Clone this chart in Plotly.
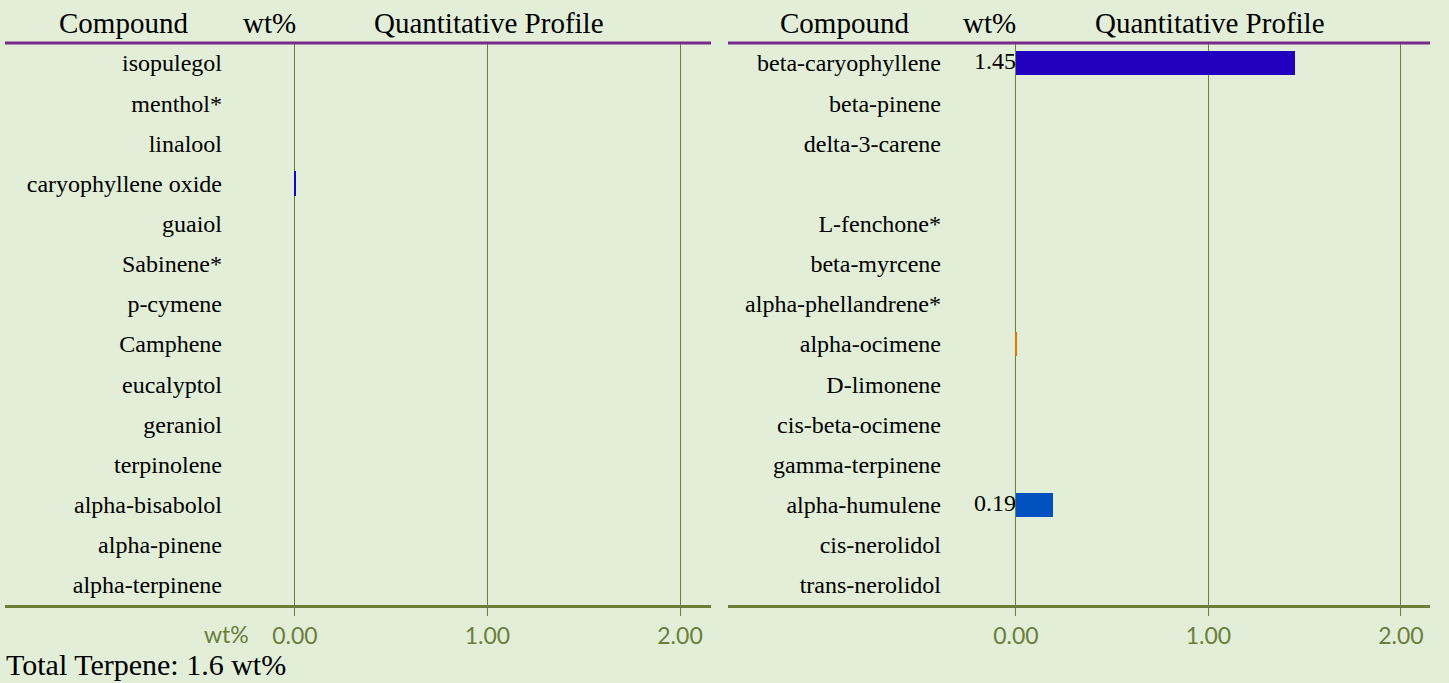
import plotly.graph_objects as go

W, H = 1449, 683

left_names = ["isopulegol", "menthol*", "linalool", "caryophyllene oxide", "guaiol",
              "Sabinene*", "p-cymene", "Camphene", "eucalyptol", "geraniol",
              "terpinolene", "alpha-bisabolol", "alpha-pinene", "alpha-terpinene"]
left_values = [0, 0, 0, 0.004, 0, 0, 0, 0, 0, 0, 0, 0, 0, 0]
left_colors = ["#1F3FBF", "#3A5FCD", "#2E2EB8", "#0A0ACC", "#3355CC", "#4466CC", "#2255BB",
               "#3344AA", "#2266CC", "#4455BB", "#3366DD", "#2244AA", "#5566CC", "#3355BB"]

right_names = ["beta-caryophyllene", "beta-pinene", "delta-3-carene", " ", "L-fenchone*",
               "beta-myrcene", "alpha-phellandrene*", "alpha-ocimene", "D-limonene",
               "cis-beta-ocimene", "gamma-terpinene", "alpha-humulene", "cis-nerolidol",
               "trans-nerolidol"]
right_values = [1.45, 0, 0, 0, 0, 0, 0, 0.004, 0, 0, 0, 0.19, 0, 0]
right_colors = ["#2200C0", "#3344BB", "#4455CC", "#000000", "#5566CC", "#2255BB", "#6655CC",
                "#E07000", "#3366CC", "#4466DD", "#2244AA", "#0050C0", "#3355BB", "#2266CC"]

tick_vals = [0, 1, 2]
tick_text = ["0.00", "1.00", "2.00"]
total_text = "Total Terpene: 1.6 wt%"

OLIVE = "#6A7F38"
PURPLE = "#782A8A"
SERIF = "Liberation Serif"
SANS = "Lato"

TOP, BOT = 43, 605
MT, MB = TOP, H - BOT


def px_x(p):
    return p / W


def px_y(p):
    return (BOT - p) / (BOT - TOP)


def fmt(v):
    return f"{v:.2f}" if v >= 0.01 else ""


fig = go.Figure()
fig.add_trace(go.Bar(x=left_values, y=left_names, orientation="h", width=0.6,
                     marker=dict(color=left_colors, line=dict(width=0)),
                     xaxis="x", yaxis="y", showlegend=False, hoverinfo="skip"))
fig.add_trace(go.Bar(x=right_values, y=right_names, orientation="h", width=0.6,
                     marker=dict(color=right_colors, line=dict(width=0)),
                     xaxis="x2", yaxis="y2", showlegend=False, hoverinfo="skip"))
fig.add_trace(go.Scatter(x=[0] * len(left_names), y=left_names, mode="text",
                         text=[fmt(v) for v in left_values], textposition="middle left",
                         textfont=dict(family=SERIF, size=24, color="#000000"),
                         xaxis="x", yaxis="y", showlegend=False, hoverinfo="skip", cliponaxis=False))
fig.add_trace(go.Scatter(x=[0] * len(right_names), y=right_names, mode="text",
                         text=[fmt(v) for v in right_values], textposition="middle left",
                         textfont=dict(family=SERIF, size=24, color="#000000"),
                         xaxis="x2", yaxis="y2", showlegend=False, hoverinfo="skip", cliponaxis=False))

xcommon = dict(tickvals=tick_vals, ticktext=tick_text, showgrid=True, gridcolor=OLIVE,
               gridwidth=1, showline=True, linecolor=OLIVE, linewidth=3, ticks="outside",
               ticklen=8, tickcolor=OLIVE, tickwidth=1,
               tickfont=dict(family=SANS, size=23, color=OLIVE), zeroline=False,
               fixedrange=True)
ycommon = dict(type="category", range=[13.5, -0.5], autorange=False, showgrid=False,
               showline=False, ticks="", zeroline=False, domain=[0, 1], anchor="free",
               tickfont=dict(family=SERIF, size=24, color="#000000"), fixedrange=True)

fig.update_layout(
    width=W, height=H,
    margin=dict(l=0, r=0, t=MT, b=MB),
    paper_bgcolor="#E3EED8",
    plot_bgcolor="rgba(0,0,0,0)",
    bargap=0,
    xaxis=dict(domain=[px_x(5), px_x(711)], range=[-1.506, 2.161], anchor="y", **xcommon),
    xaxis2=dict(domain=[px_x(728), px_x(1430)], range=[-1.496, 2.151], anchor="y2", **xcommon),
    yaxis=dict(position=px_x(222), categoryarray=left_names, categoryorder="array", **ycommon),
    yaxis2=dict(position=px_x(941), categoryarray=right_names, categoryorder="array", **ycommon),
)

for xr in ["x domain", "x2 domain"]:
    fig.add_shape(type="line", xref=xr, yref="paper", x0=0, x1=1, y0=1, y1=1,
                  line=dict(color=PURPLE, width=3))

headers = [("Compound", 123.5), ("wt%", 269.5), ("Quantitative Profile", 488.5),
           ("Compound", 844.5), ("wt%", 990), ("Quantitative Profile", 1209.5)]
for txt, cx in headers:
    fig.add_annotation(text=txt, x=px_x(cx), y=px_y(23), xref="paper", yref="paper",
                       xanchor="center", yanchor="middle", showarrow=False,
                       font=dict(family=SERIF, size=29, color="#000000"))

fig.add_annotation(text="wt%", x=px_x(251), y=px_y(634), xref="paper", yref="paper",
                   xanchor="right", yanchor="middle", showarrow=False,
                   font=dict(family=SANS, size=23, color=OLIVE))
fig.add_annotation(text=total_text, x=px_x(4), y=px_y(664), xref="paper", yref="paper",
                   xanchor="left", yanchor="middle", showarrow=False,
                   font=dict(family=SERIF, size=30, color="#000000"))

fig.write_html("out.html", config={"displayModeBar": False},
               post_script="document.body.style.margin='0';document.body.style.background='#E3EED8';")
